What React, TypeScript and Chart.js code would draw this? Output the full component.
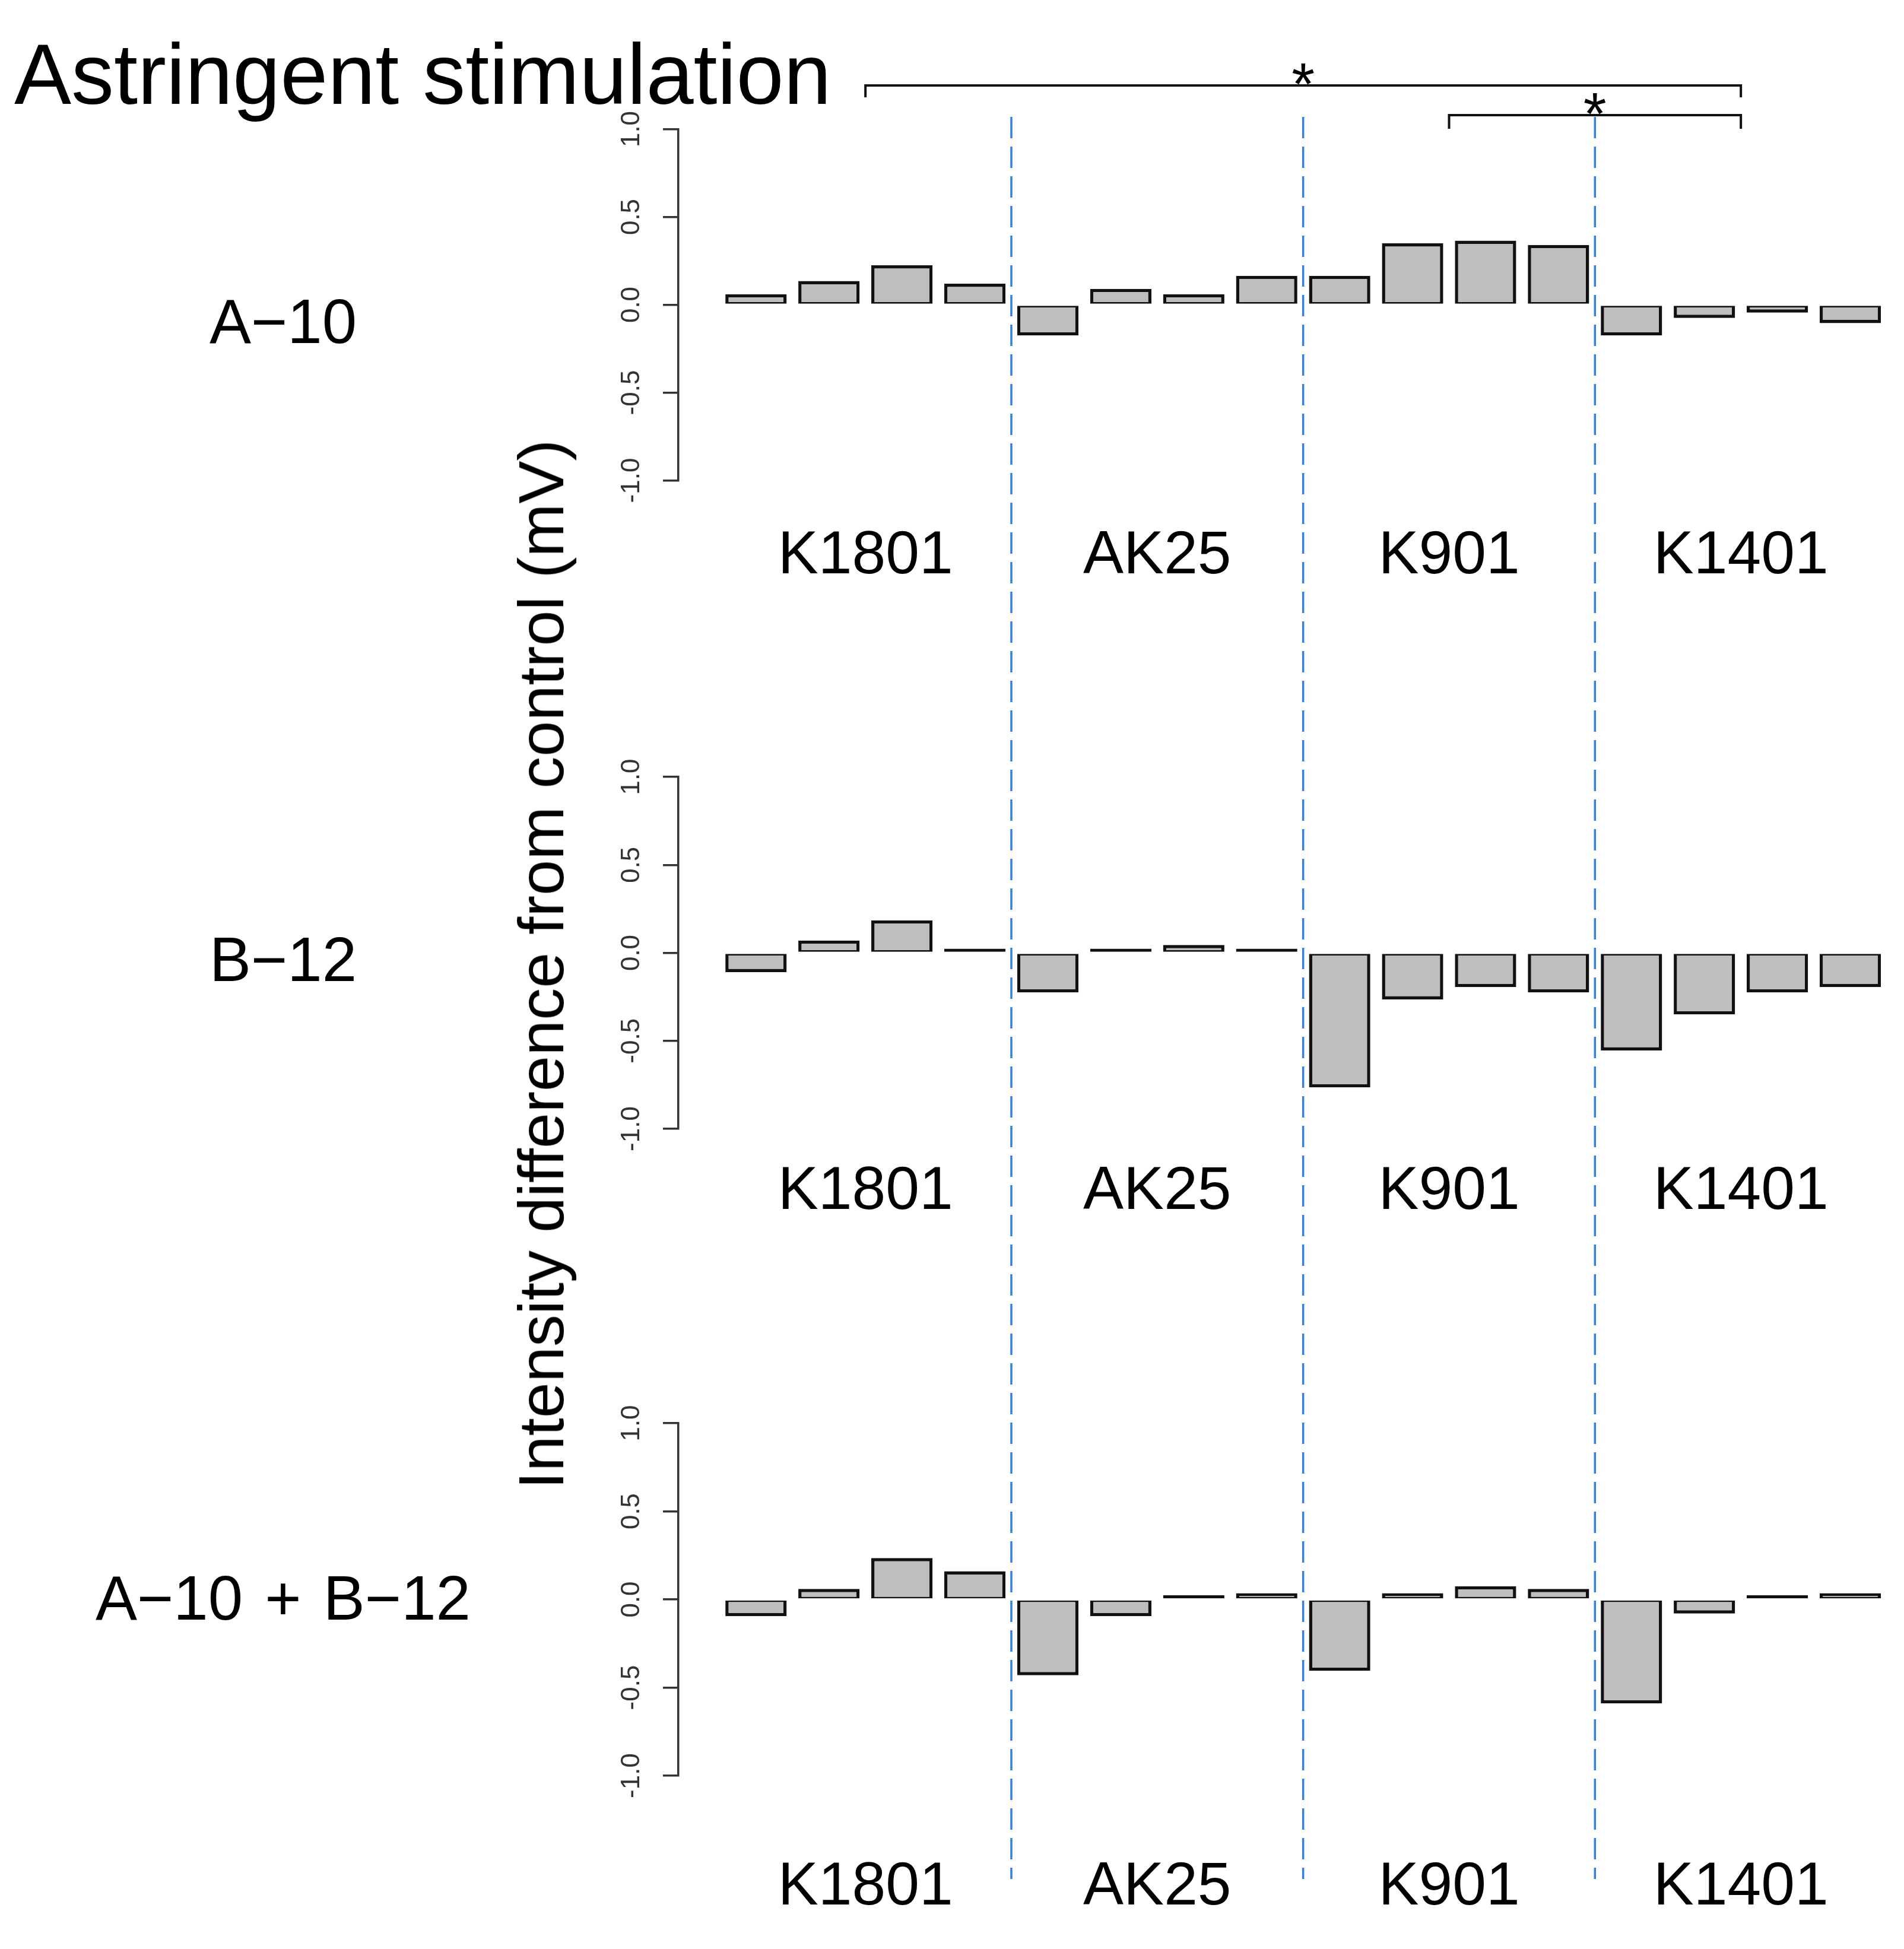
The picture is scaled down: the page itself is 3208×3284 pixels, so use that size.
import React, { useEffect, useRef } from 'react';
import { Chart, registerables } from 'chart.js';

Chart.register(...registerables);

// four strains, four samples each
const strains = ['K1801', 'AK25', 'K901', 'K1401'];
const samplesPerStrain = 4;

const a10Values = [0.06, 0.135, 0.225, 0.12, -0.175, 0.09, 0.06, 0.165, 0.165, 0.35, 0.365, 0.34, -0.175, -0.075, -0.045, -0.105];
const b12Values = [-0.11, 0.07, 0.185, 0.008, -0.225, 0.008, 0.045, 0.008, -0.765, -0.265, -0.195, -0.225, -0.555, -0.35, -0.225, -0.195];
const a10b12Values = [-0.095, 0.06, 0.235, 0.16, -0.43, -0.095, 0.003, 0.035, -0.405, 0.035, 0.075, 0.06, -0.59, -0.08, 0.012, 0.035];

const yTickValues = [-1, -0.5, 0, 0.5, 1];
const panelLabels = ['A−10', 'B−12', 'A−10 + B−12'];
const significance = [
  { from: 'K1801', to: 'K1401', mark: '*' },
  { from: 'K901', to: 'K1401', mark: '*' },
];
const titleText = 'Astringent stimulation';
const yTitleText = 'Intensity difference from control (mV)';

const panelValues = [a10Values, b12Values, a10b12Values];

// layout (page pixels)
const PAGE_W = 3208;
const PAGE_H = 3284;
const FONT = '"Liberation Sans", Arial, Helvetica, sans-serif';
const AXIS_X = 1143;
const Y_AXIS_W = 200;
const PAD_RIGHT = 29;
const X_MIN = -1.064;
const X_MAX = 15.5;
const DIV_TOP = 197;
const DIV_BOTTOM = 3166;
const BAR_EDGE = 5.5;

const panelBoxes = [
  { top: 0, height: 1080, areaTop: 217.5, areaBottom: 809.5, labelPad: 59, labelTop: 489 },
  { top: 1080, height: 1090, areaTop: 1309, areaBottom: 1902, labelPad: 38, labelTop: 1564 },
  { top: 2170, height: 1114, areaTop: 2398, areaBottom: 2992, labelPad: 120, labelTop: 2640 },
];
const bracketRows = [
  { y: 144, drop: 20, starBase: 176 },
  { y: 194, drop: 23, starBase: 226 },
];

const strainCenter = (g: number) => g * samplesPerStrain + (samplesPerStrain - 1) / 2;

const makeOverlay = (index: number) => ({
  id: 'overlay' + index,
  beforeDatasetsDraw(chart: any) {
    const { ctx } = chart;
    const xs = chart.scales.x;
    const box = panelBoxes[index];
    const y0 = Math.max(0, DIV_TOP - box.top);
    const y1 = Math.min(box.height, DIV_BOTTOM - box.top);
    ctx.save();
    ctx.strokeStyle = '#3580d8';
    ctx.lineWidth = 3.5;
    ctx.setLineDash([36, 14]);
    ctx.lineDashOffset = box.top + y0 - DIV_TOP;
    for (let g = 1; g < strains.length; g++) {
      const px = xs.getPixelForValue(g * samplesPerStrain - 0.5);
      ctx.beginPath();
      ctx.moveTo(px, y0);
      ctx.lineTo(px, y1);
      ctx.stroke();
    }
    ctx.restore();
  },
  afterDraw(chart: any) {
    if (index !== 0) return;
    const { ctx } = chart;
    const xs = chart.scales.x;
    ctx.save();
    ctx.strokeStyle = '#111';
    ctx.fillStyle = '#000';
    ctx.lineWidth = 4;
    ctx.font = `100px ${FONT}`;
    ctx.textAlign = 'center';
    ctx.textBaseline = 'alphabetic';
    significance.forEach((s, k) => {
      const row = bracketRows[k];
      const x1 = xs.getPixelForValue(strainCenter(strains.indexOf(s.from)));
      const x2 = xs.getPixelForValue(strainCenter(strains.indexOf(s.to)));
      ctx.beginPath();
      ctx.moveTo(x1, row.y + row.drop);
      ctx.lineTo(x1, row.y);
      ctx.lineTo(x2, row.y);
      ctx.lineTo(x2, row.y + row.drop);
      ctx.stroke();
      ctx.fillText(s.mark, (x1 + x2) / 2, row.starBase);
    });
    ctx.restore();
  },
});

const PanelChart: React.FC<{ index: number }> = ({ index }) => {
  const canvasRef = useRef<HTMLCanvasElement | null>(null);
  const box = panelBoxes[index];

  useEffect(() => {
    if (!canvasRef.current) return;
    const values = panelValues[index];
    const chart = new Chart(canvasRef.current, {
      type: 'bar',
      data: {
        datasets: [
          {
            label: panelLabels[index],
            data: values.map((v, i) => ({ x: i, y: v })),
            backgroundColor: '#bebebe',
            borderColor: '#111',
            // half-width edge on the zero side so both signs share the baseline
            borderWidth: (c: any) => {
              const v = c.raw ? c.raw.y : 0;
              return v >= 0
                ? { top: BAR_EDGE, left: BAR_EDGE, right: BAR_EDGE, bottom: BAR_EDGE / 2 }
                : { top: BAR_EDGE / 2, left: BAR_EDGE, right: BAR_EDGE, bottom: BAR_EDGE };
            },
            borderSkipped: false,
            barPercentage: 0.84,
            categoryPercentage: 1,
            minBarLength: 7,
          },
        ],
      },
      options: {
        responsive: false,
        animation: false,
        devicePixelRatio: 1,
        layout: {
          padding: {
            top: box.areaTop - box.top,
            bottom: 0,
            left: AXIS_X - Y_AXIS_W,
            right: PAD_RIGHT,
          },
        },
        plugins: {
          legend: { display: false },
          tooltip: { enabled: false },
          title: { display: false },
        },
        scales: {
          x: {
            type: 'linear',
            min: X_MIN,
            max: X_MAX,
            offset: false,
            grid: { display: false },
            border: { display: false },
            afterBuildTicks: (axis: any) => {
              axis.ticks = strains.map((_, g) => ({ value: strainCenter(g) }));
            },
            afterFit: (axis: any) => {
              axis.height = box.height - (box.areaBottom - box.top);
            },
            ticks: {
              autoSkip: false,
              maxRotation: 0,
              minRotation: 0,
              padding: box.labelPad,
              color: '#000',
              font: { family: FONT, size: 102 },
              callback: (_v: any, i: number) => strains[i],
            },
          },
          y: {
            type: 'linear',
            min: -1,
            max: 1,
            afterBuildTicks: (axis: any) => {
              axis.ticks = yTickValues.map((v) => ({ value: v }));
            },
            afterFit: (axis: any) => {
              axis.width = Y_AXIS_W;
            },
            grid: {
              drawOnChartArea: false,
              drawTicks: true,
              tickLength: 26,
              color: '#333',
              lineWidth: 3.5,
            },
            border: { display: true, color: '#333', width: 3.5 },
            ticks: {
              minRotation: 90,
              maxRotation: 90,
              crossAlign: 'center',
              padding: 14,
              color: '#333',
              font: { family: FONT, size: 44 },
              callback: (v: any) => Number(v).toFixed(1),
            },
          },
        },
      },
      plugins: [makeOverlay(index)],
    } as any);

    return () => {
      chart.destroy();
    };
  }, [index]);

  return (
    <canvas
      ref={canvasRef}
      width={PAGE_W}
      height={box.height}
      style={{ position: 'absolute', left: 0, top: box.top, width: PAGE_W, height: box.height }}
    />
  );
};

const App: React.FC = () => {
  return (
    <div
      style={{
        position: 'absolute',
        left: 0,
        top: 0,
        width: PAGE_W,
        height: PAGE_H,
        background: '#fff',
        overflow: 'hidden',
        fontFamily: FONT,
        color: '#000',
      }}
    >
      {panelBoxes.map((_, i) => (
        <PanelChart key={i} index={i} />
      ))}
      <div
        style={{
          position: 'absolute',
          left: 24,
          top: 54,
          fontSize: 144,
          lineHeight: '144px',
          whiteSpace: 'nowrap',
        }}
      >
        {titleText}
      </div>
      {panelLabels.map((label, i) => (
        <div
          key={label}
          style={{
            position: 'absolute',
            left: 0,
            width: 954,
            top: panelBoxes[i].labelTop,
            textAlign: 'center',
            fontSize: 105,
            lineHeight: '105px',
            wordSpacing: 8,
            whiteSpace: 'nowrap',
          }}
        >
          {label}
        </div>
      ))}
      <div
        style={{
          position: 'absolute',
          left: 912,
          top: 1625,
          fontSize: 108,
          lineHeight: '108px',
          whiteSpace: 'nowrap',
          transform: 'translate(-50%, -50%) rotate(-90deg)',
        }}
      >
        {yTitleText}
      </div>
    </div>
  );
};

export default App;
